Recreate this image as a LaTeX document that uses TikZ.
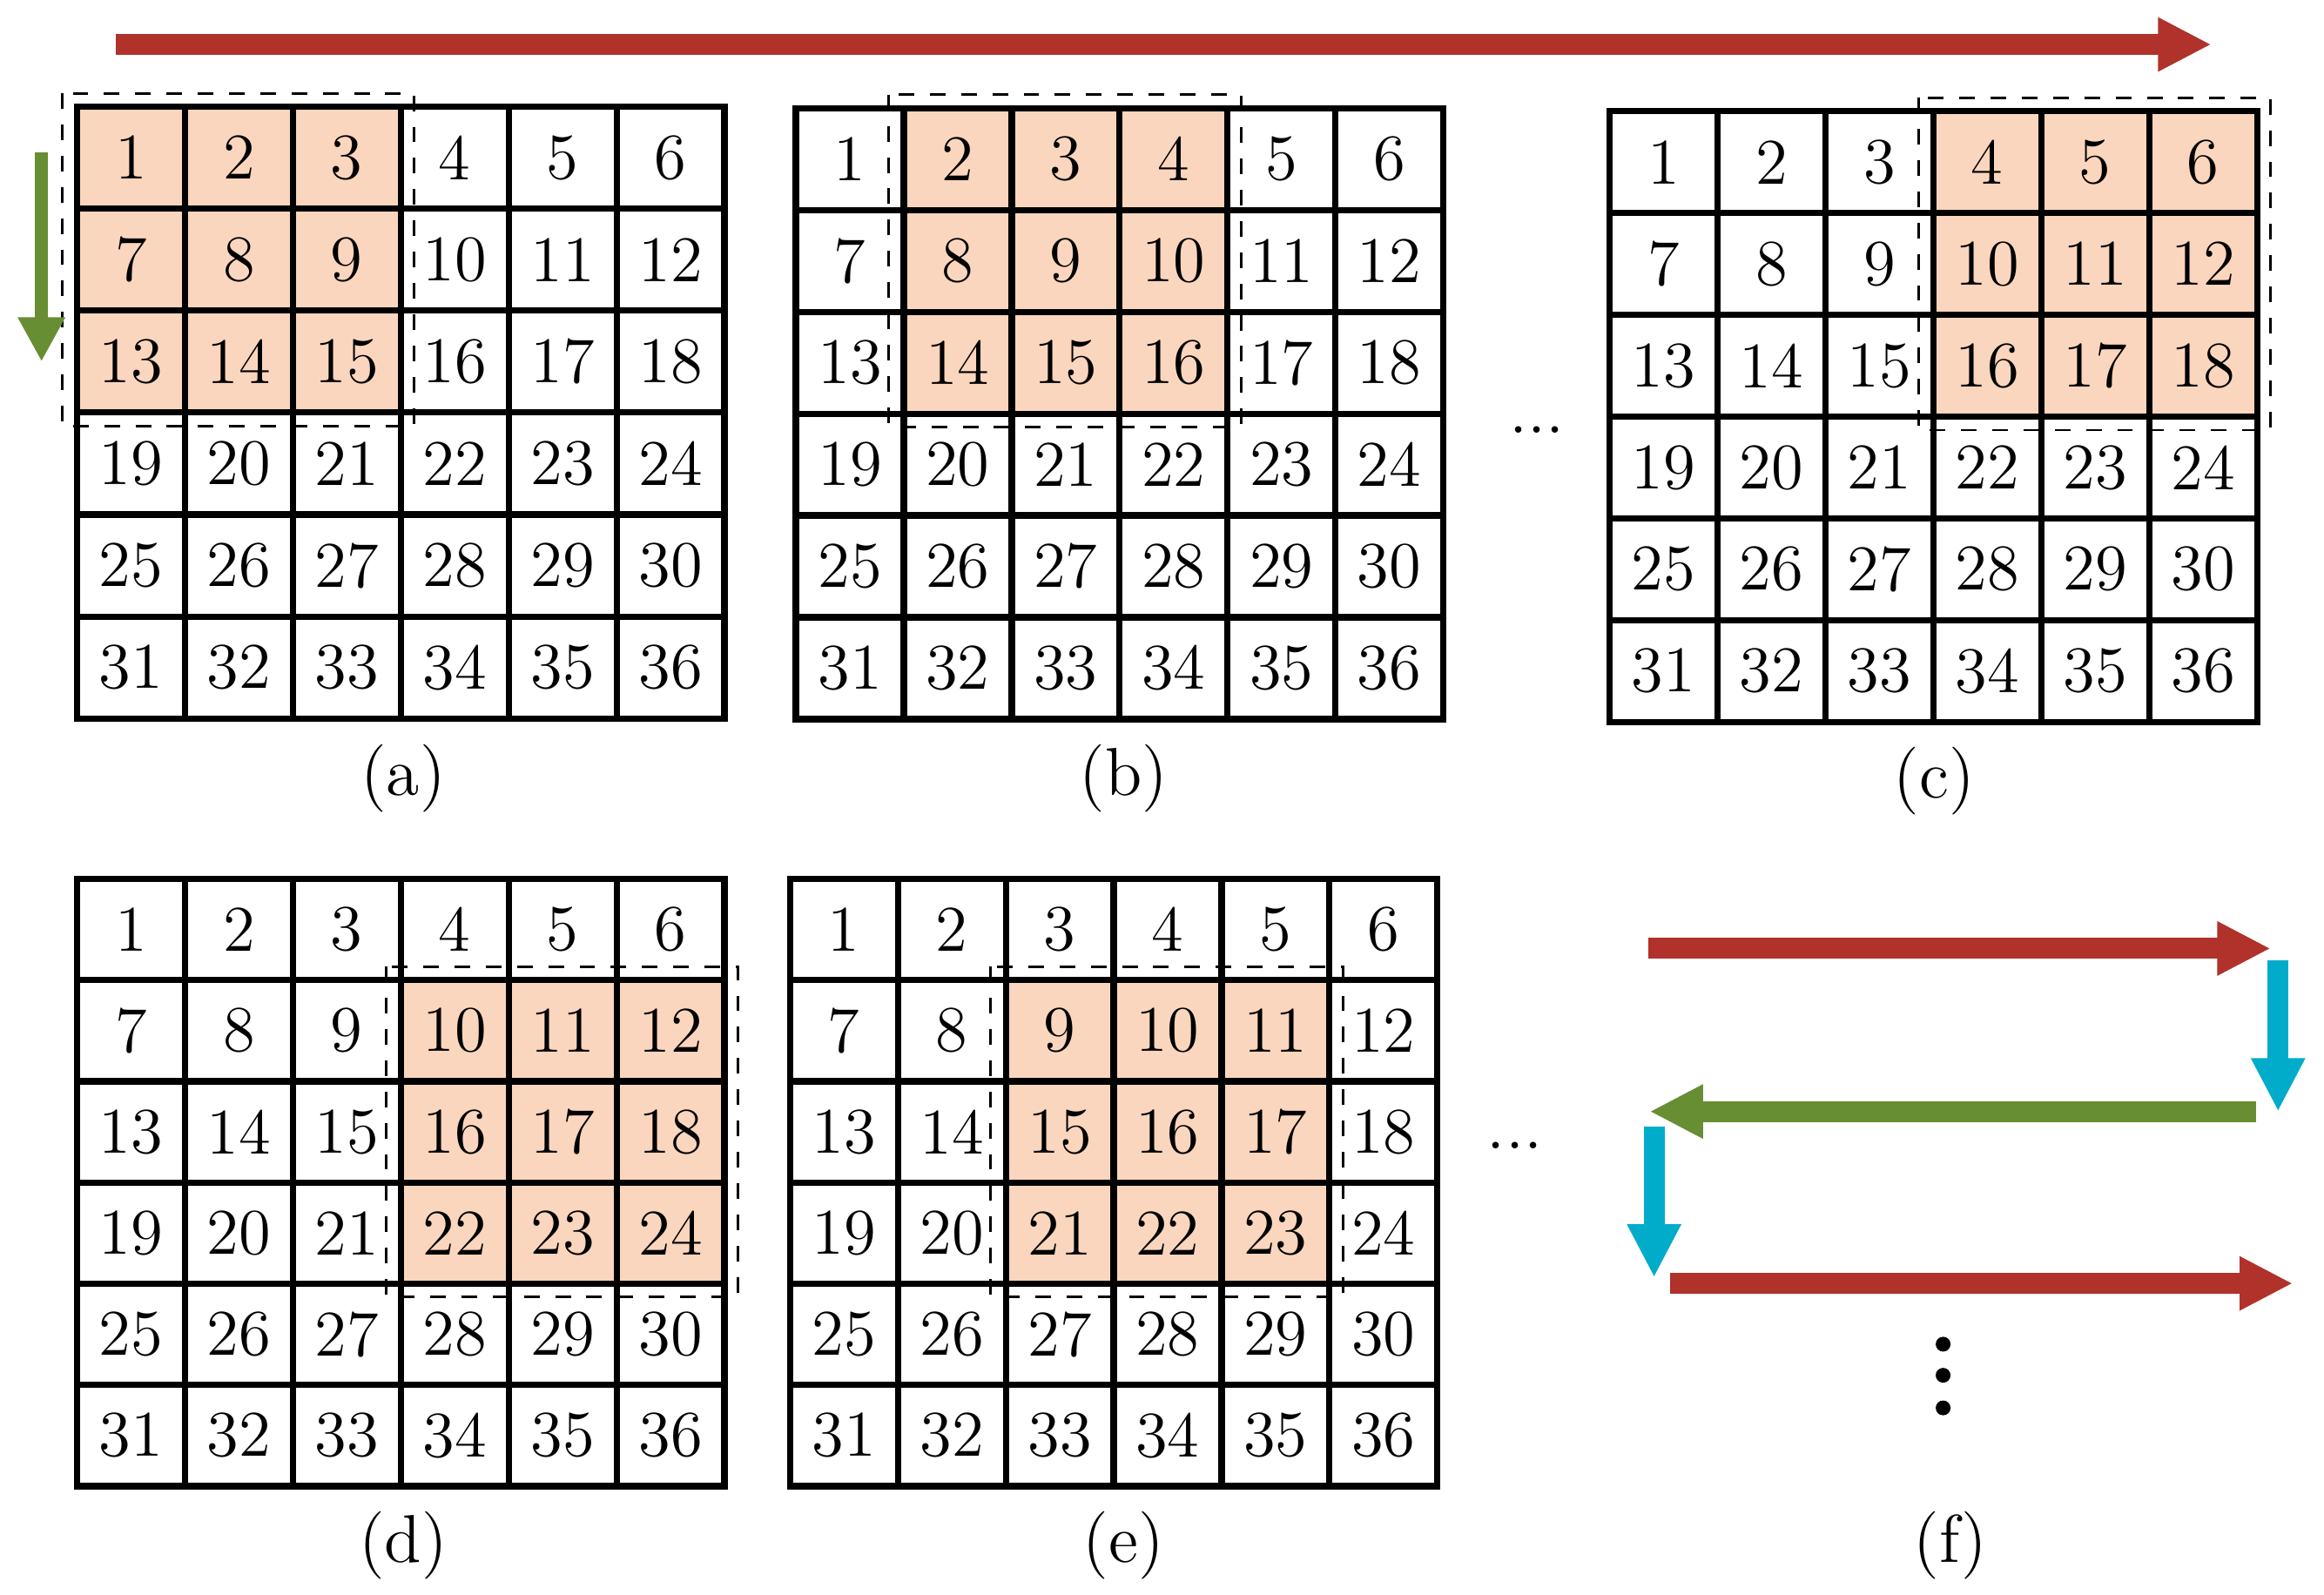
\documentclass[tikz,border=0pt]{standalone}
\usetikzlibrary{arrows.meta}
\definecolor{ared}{RGB}{176,50,42}
\definecolor{agreen}{RGB}{104,142,52}
\definecolor{acyan}{RGB}{0,172,202}
\definecolor{hl}{RGB}{251,214,190}
\tikzset{cell/.style={draw,line width=1.2pt,minimum width=0.728cm,minimum height=0.687cm,inner sep=0pt,font=\fontsize{12.5}{14}\selectfont},
bigarrow/.style={line width=4pt,-{Triangle[length=0.36cm,width=0.34cm]}},
lab/.style={font=\fontsize{13}{15}\selectfont},
hbox/.style={draw,dashed,line width=0.5pt}}
% #1 name, #2 x0, #3 ytop, #4 cell w, #5 cell h, #6 hl col start, #7 hl row start
\newcommand\mygrid[7]{%
 \foreach \r in {1,...,6}{\foreach \c in {1,...,6}{%
  \pgfmathtruncatemacro\n{(\r-1)*6+\c}%
  \pgfmathsetmacro\isH{(\c>=#6)&&(\c<#6+3)&&(\r>=#7)&&(\r<#7+3)?1:0}%
  \ifdim\isH pt>0.5pt \def\fc{hl}\else\def\fc{white}\fi
  \node[cell,fill=\fc,minimum width=#4cm,minimum height=#5cm] (#1-\n) at ({#2+(\c-0.5)*#4},{-#3-(\r-0.5)*#5}) {\n};}}%
}
% dashed box around highlighted block: #1 top-left node, #2 bottom-right node
\newcommand\hlbox[2]{\draw[hbox] ([shift={(-0.08,0.07)}]#1.north west) rectangle ([shift={(0.07,-0.07)}]#2.south east);}
\begin{document}
\begin{tikzpicture}
\useasboundingbox (0,0) rectangle (15.68,-10.76);
\mygrid{a}{0.52}{0.72}{0.728}{0.688}{1}{1}
\mygrid{b}{5.37}{0.73}{0.728}{0.687}{2}{1}
\mygrid{c}{10.86}{0.75}{0.728}{0.687}{4}{1}
\mygrid{d}{0.52}{5.93}{0.728}{0.683}{4}{2}
\mygrid{e}{5.33}{5.93}{0.728}{0.683}{3}{2}
\hlbox{a-1}{a-15}
\hlbox{b-2}{b-16}
\hlbox{c-4}{c-18}
\hlbox{d-10}{d-24}
\hlbox{e-9}{e-23}
\node[lab] (la) at (2.72,-5.25) {(a)};
\node[lab] (lb) at (7.58,-5.25) {(b)};
\node[lab] (lc) at (13.05,-5.27) {(c)};
\node[lab] (ld) at (2.72,-10.43) {(d)};
\node[lab] (le) at (7.58,-10.43) {(e)};
\node[lab] (lf) at (13.16,-10.43) {(f)};
\node[lab] (dots1) at (10.37,-2.9) {...};
\node[lab] (dots2) at (10.22,-7.73) {...};
\coordinate (t1) at (0.78,-0.30); \coordinate (t2) at (14.92,-0.30);
\draw[bigarrow,ared] (t1) -- (t2);
\coordinate (g1) at (0.28,-1.03); \coordinate (g2) at (0.28,-2.44);
\draw[line width=2.5pt,agreen,-{Triangle[length=0.3cm,width=0.3cm]}] (g1) -- (g2);
\coordinate (f1) at (11.12,-6.40); \coordinate (f2) at (15.32,-6.40);
\coordinate (f3) at (15.37,-6.48); \coordinate (f4) at (15.37,-7.50);
\coordinate (f5) at (15.22,-7.50); \coordinate (f6) at (11.13,-7.50);
\coordinate (f7) at (11.16,-7.60); \coordinate (f8) at (11.16,-8.62);
\coordinate (f9) at (11.27,-8.66); \coordinate (f10) at (15.47,-8.66);
\draw[bigarrow,ared] (f1) -- (f2);
\draw[bigarrow,acyan] (f3) -- (f4);
\draw[bigarrow,agreen] (f5) -- (f6);
\draw[bigarrow,acyan] (f7) -- (f8);
\draw[bigarrow,ared] (f9) -- (f10);
\foreach \y in {9.07,9.28,9.50}{\fill (13.11,-\y) circle (0.05);}
\end{tikzpicture}
\end{document}
